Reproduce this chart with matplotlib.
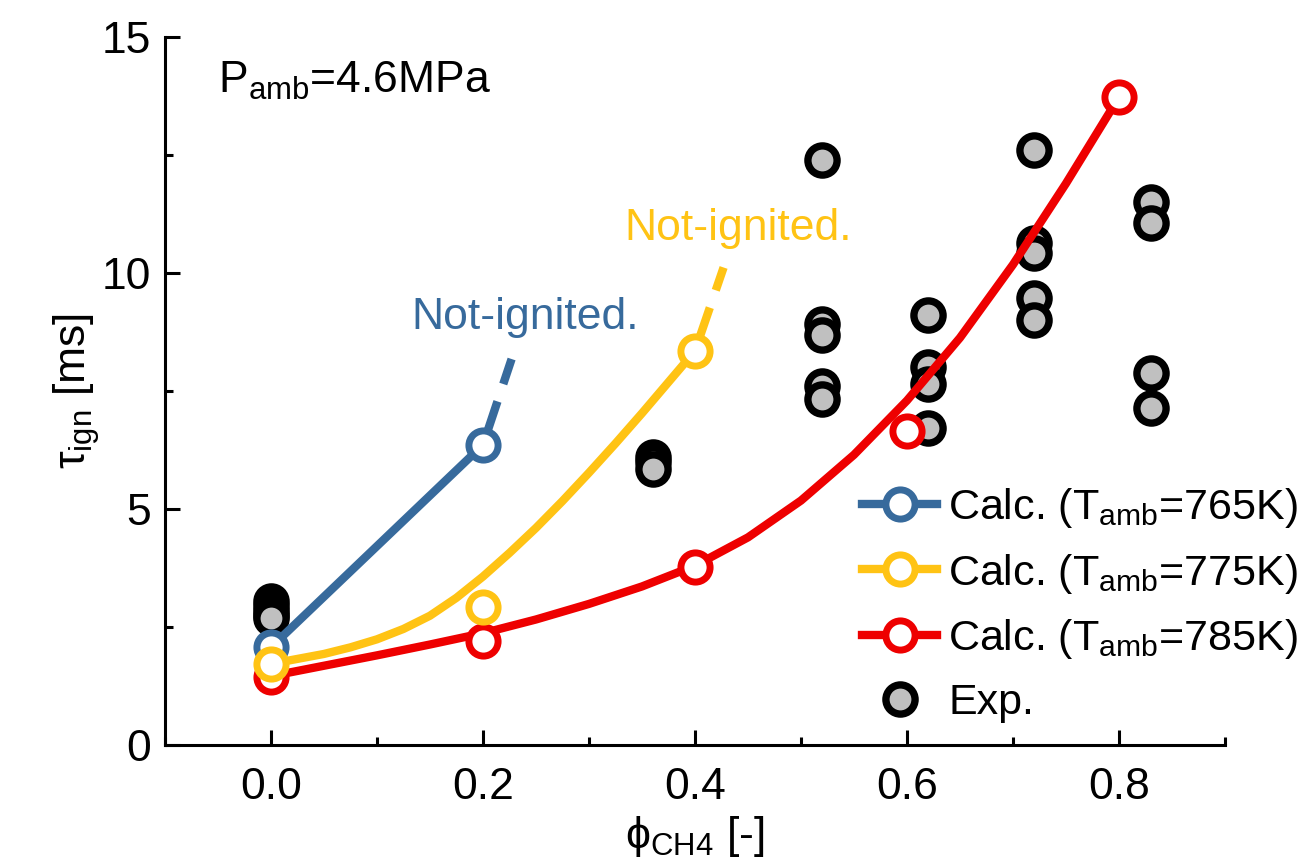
import matplotlib
matplotlib.use("Agg")
import matplotlib.pyplot as plt
from matplotlib.ticker import MultipleLocator

plt.rcParams['font.family'] = ['Liberation Sans', 'DejaVu Sans']
plt.rcParams['mathtext.fontset'] = 'custom'
plt.rcParams['mathtext.rm'] = 'Liberation Sans'
plt.rcParams['mathtext.it'] = 'Liberation Sans:italic'
plt.rcParams['mathtext.bf'] = 'Liberation Sans:bold'

# ---- data -------------------------------------------------------------
# Experiments: CH4 equivalence ratio and measured ignition delay [ms]
exp_phi = [0.0, 0.0, 0.0, 0.0, 0.0,
           0.36, 0.36, 0.36,
           0.52, 0.52, 0.52, 0.52, 0.52,
           0.62, 0.62, 0.62, 0.62,
           0.72, 0.72, 0.72, 0.72, 0.72,
           0.83, 0.83, 0.83, 0.83]
exp_tau = [3.05, 2.95, 2.85, 2.75, 2.7,
           6.1, 6.0, 5.85,
           12.4, 8.93, 8.68, 7.6, 7.33,
           9.12, 8.02, 7.65, 6.72,
           12.6, 10.63, 10.42, 9.47, 9.0,
           11.5, 11.06, 7.88, 7.14]

# Calculations, T_amb = 765 K
calc765_phi = [0.0, 0.2]
calc765_tau = [2.07, 6.36]
calc765_noign_phi = [0.2, 0.227]
calc765_noign_tau = [6.36, 8.18]

# Calculations, T_amb = 775 K
calc775_phi = [0.0, 0.2, 0.4]
calc775_tau = [1.72, 2.92, 8.35]
fit775_phi = [0.0, 0.05, 0.075, 0.1, 0.125, 0.15, 0.175, 0.2, 0.225,
              0.25, 0.275, 0.3, 0.325, 0.35, 0.375, 0.4]
fit775_tau = [1.72, 1.93, 2.07, 2.24, 2.46, 2.74, 3.12, 3.57, 4.07,
              4.6, 5.17, 5.77, 6.39, 7.03, 7.69, 8.35]
calc775_noign_phi = [0.4, 0.427]
calc775_noign_tau = [8.35, 10.12]

# Calculations, T_amb = 785 K
calc785_phi = [0.0, 0.2, 0.4, 0.6, 0.8]
calc785_tau = [1.45, 2.2, 3.77, 6.65, 13.73]
fit785_phi = [0.0, 0.05, 0.1, 0.15, 0.2, 0.25, 0.3, 0.35, 0.4,
              0.45, 0.5, 0.55, 0.6, 0.65, 0.7, 0.75, 0.8]
fit785_tau = [1.46, 1.68, 1.9, 2.13, 2.37, 2.66, 2.99, 3.36, 3.8,
              4.4, 5.18, 6.15, 7.3, 8.63, 10.18, 11.9, 13.73]

legend_labels = [r'Calc. (T$_{\mathrm{amb}}$=765K)',
                 r'Calc. (T$_{\mathrm{amb}}$=775K)',
                 r'Calc. (T$_{\mathrm{amb}}$=785K)',
                 'Exp.']

# ---- style --------------------------------------------------------------
BLUE = '#376A9C'
GOLD = '#FFC314'
RED = '#EE0000'
FS = 32
LW = 6
MS = 21
MEW = 5

fig = plt.figure(figsize=(12.99, 8.59), dpi=100)
ax = fig.add_axes([0.127, 0.1327, 0.816, 0.824])

# experimental points
exp_h, = ax.plot(exp_phi, exp_tau, linestyle='none', marker='o', ms=MS,
                 mfc='#C0C0C0', mec='black', mew=MEW + 0.3, zorder=2)

# 785 K
ax.plot(fit785_phi, fit785_tau, color=RED, lw=LW, solid_capstyle='round',
        solid_joinstyle='round', zorder=3)
ax.plot(calc785_phi, calc785_tau, linestyle='none', marker='o', ms=MS,
        mfc='white', mec=RED, mew=MEW, zorder=4)
h785, = ax.plot([], [], color=RED, lw=LW, marker='o', ms=MS, mfc='white',
                mec=RED, mew=MEW)

# 765 K
ax.plot(calc765_phi, calc765_tau, color=BLUE, lw=LW,
        solid_capstyle='projecting', zorder=3)
ax.plot(calc765_noign_phi, calc765_noign_tau, color=BLUE, lw=LW,
        linestyle=(0, (5.5, 2.2)), dash_capstyle='butt', zorder=3)
ax.plot(calc765_phi, calc765_tau, linestyle='none', marker='o', ms=MS,
        mfc='white', mec=BLUE, mew=MEW, zorder=4)
h765, = ax.plot([], [], color=BLUE, lw=LW, marker='o', ms=MS, mfc='white',
                mec=BLUE, mew=MEW, solid_capstyle='projecting')

# 775 K
ax.plot(fit775_phi, fit775_tau, color=GOLD, lw=LW, solid_capstyle='round',
        solid_joinstyle='round', zorder=5)
ax.plot(calc775_noign_phi, calc775_noign_tau, color=GOLD, lw=LW,
        linestyle=(0, (5.5, 2.2)), dash_capstyle='butt', zorder=5)
ax.plot(calc775_phi, calc775_tau, linestyle='none', marker='o', ms=MS,
        mfc='white', mec=GOLD, mew=MEW, zorder=6)
h775, = ax.plot([], [], color=GOLD, lw=LW, marker='o', ms=MS, mfc='white',
                mec=GOLD, mew=MEW)

# annotations
ax.text(0.24, 9.05, 'Not-ignited.', color=BLUE, fontsize=FS,
        ha='center', va='center')
ax.text(0.441, 10.95, 'Not-ignited.', color=GOLD, fontsize=FS,
        ha='center', va='center')
ax.text(-0.05, 13.83, r'P$_{\mathrm{amb}}$=4.6MPa', fontsize=FS,
        ha='left', va='baseline')

# axes
ax.set_xlim(-0.1, 0.9)
ax.set_ylim(0, 15)
ax.xaxis.set_minor_locator(MultipleLocator(0.1))
ax.yaxis.set_minor_locator(MultipleLocator(2.5))
ax.set_xticks([0.0, 0.2, 0.4, 0.6, 0.8])
ax.set_xticklabels(['0.0', '0.2', '0.4', '0.6', '0.8'])
ax.set_yticks([0, 5, 10, 15])
ax.set_yticklabels(['0', '5', '10', '15'])
for s in ('top', 'right'):
    ax.spines[s].set_visible(False)
for s in ('left', 'bottom'):
    ax.spines[s].set_linewidth(2.2)
ax.tick_params(which='both', direction='in', width=2.2, labelsize=FS)
ax.tick_params(axis='x', which='both', pad=16)
ax.tick_params(axis='y', which='both', pad=10)
ax.tick_params(which='major', length=11)
ax.tick_params(which='minor', length=6)

ax.set_xlabel('ϕ$_{\\mathrm{CH4}}$ [-]', fontsize=FS, labelpad=4)
ax.set_ylabel('τ$_{\\mathrm{ign}}$ [ms]', fontsize=FS, labelpad=0)

leg = ax.legend([h765, h775, h785, exp_h], legend_labels, fontsize=31,
                frameon=False, loc='upper left',
                bbox_to_anchor=(862 / 1299, 1 - 486 / 859),
                bbox_transform=fig.transFigure, borderpad=0,
                handlelength=1.75, handletextpad=0.25, labelspacing=0.5,
                numpoints=1, borderaxespad=0)

fig.savefig('out.png', dpi=100)
